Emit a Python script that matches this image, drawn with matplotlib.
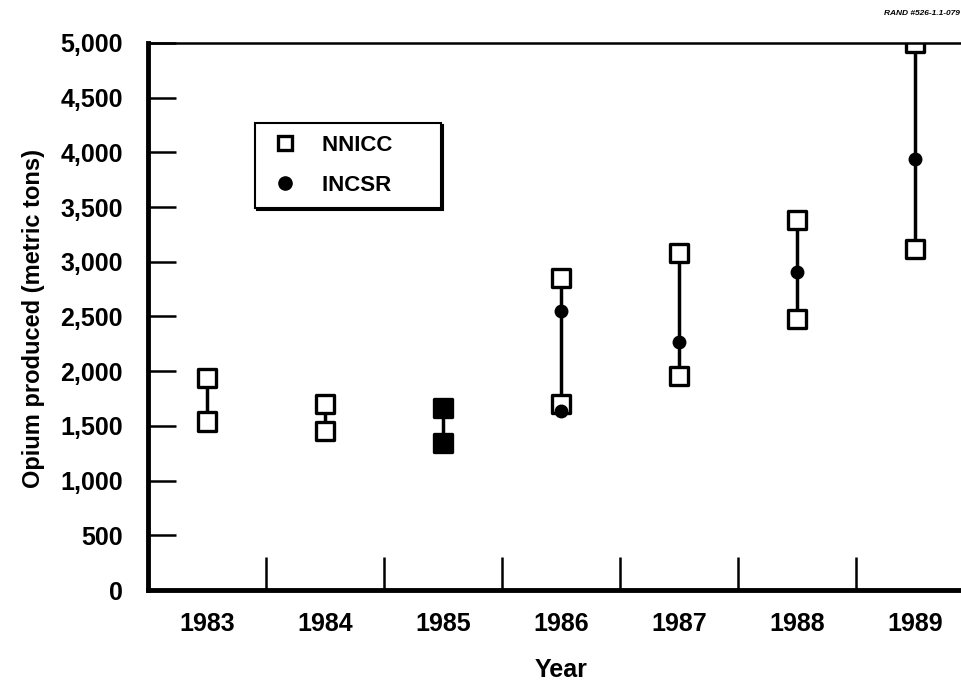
import matplotlib.pyplot as plt

plt.rcParams['font.family'] = ['Liberation Sans', 'DejaVu Sans']
plt.rcParams['font.weight'] = 'bold'

# data
years = [1983, 1984, 1985, 1986, 1987, 1988, 1989]
nnicc_high = [1940, 1700, 1660, 2850, 3080, 3380, 5000]
nnicc_low = [1540, 1450, 1340, 1700, 1960, 2480, 3120]
incsr = [None, None, None, 2550, 2270, 2910, 3940]
incsr_low = [None, None, None, 1640, None, None, None]

fig = plt.figure(figsize=(9.62, 6.81), dpi=100)
ax = fig.add_axes([0.1538, 0.1336, 0.859, 0.8033])

# range lines
for x, lo, hi in zip(years, nnicc_low, nnicc_high):
    ax.plot([x, x], [lo, hi], color='black', lw=2.5, zorder=1)

# INCSR dots
ix = [x for x, v in zip(years, incsr) if v is not None]
iv = [v for v in incsr if v is not None]
ax.plot(ix, iv, 'o', color='black', ms=9, zorder=3)
lx = [x for x, v in zip(years, incsr_low) if v is not None]
lv = [v for v in incsr_low if v is not None]
ax.plot(lx, lv, 'o', color='black', ms=9, zorder=3)

# NNICC squares (1985: INCSR coincides, drawn filled)
face = ['white' if y != 1985 else 'black' for y in years]
ax.scatter(years, nnicc_high, marker='s', s=170, facecolors=face,
           edgecolors='black', linewidths=2.4, zorder=2)
ax.scatter(years, nnicc_low, marker='s', s=170, facecolors=face,
           edgecolors='black', linewidths=2.4, zorder=2)

# legend handles
h1, = ax.plot([], [], 's', ms=10, mfc='white', mec='black', mew=2.4)
h2, = ax.plot([], [], 'o', ms=9.5, color='black')
leg = ax.legend([h1, h2], ['NNICC      ', 'INCSR      '], loc='upper left',
                bbox_to_anchor=(0.1295, 0.854), fancybox=False,
                shadow={'color': 'black', 'alpha': 1, 'ox': 1.5, 'oy': -1.5},
                edgecolor='black', fontsize=16, handletextpad=0.85,
                borderpad=0.55, labelspacing=0.85, borderaxespad=0,
                handlelength=1.6)
leg.get_frame().set_linewidth(1.5)
leg.get_frame().set_alpha(1)

ax.set_xlim(1982.5, 1989.5)
ax.set_ylim(0, 5000)
ax.set_yticks(range(0, 5001, 500))
ax.set_yticklabels([f'{v:,}' for v in range(0, 5001, 500)], fontsize=18)
ax.set_xticks(years)
ax.set_xticklabels([str(y) for y in years], fontsize=18)
ax.set_xticks([y + 0.5 for y in years[:-1]], minor=True)

ax.tick_params(axis='y', direction='in', length=20, width=1.8, pad=18)
ax.tick_params(axis='x', which='major', length=0, pad=16)
ax.tick_params(axis='x', which='minor', direction='in', length=24, width=1.8)

ax.spines['left'].set_linewidth(3.5)
ax.spines['bottom'].set_linewidth(3.5)
ax.spines['top'].set_linewidth(1.8)
ax.spines['right'].set_visible(False)

ax.set_ylabel('Opium produced (metric tons)', fontsize=17, fontweight='bold')
ax.yaxis.set_label_coords(-0.125, 0.497)
ax.set_xlabel('Year', fontsize=18, fontweight='bold', labelpad=16)

fig.text(0.998, 0.985, 'RAND #526-1.1-079', fontsize=6, style='italic',
         ha='right', va='top')

fig.savefig('out.png', dpi=100)
